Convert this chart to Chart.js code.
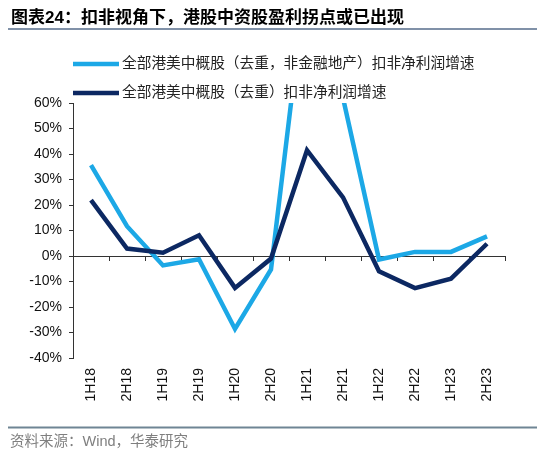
<!DOCTYPE html>
<html>
<head>
<meta charset="utf-8">
<script src="https://cdn.jsdelivr.net/npm/chart.js@4/dist/chart.umd.min.js"></script>
<style>
  html, body { margin: 0; padding: 0; background: #fff; }
</style>
</head>
<body>
<canvas id="chart" width="550" height="454"></canvas>
<script>
// data (percent)
const categories = ['1H18', '2H18', '1H19', '2H19', '1H20', '2H20', '1H21', '2H21', '1H22', '2H22', '1H23', '2H23'];
const nonFinGrowth = [35.6, 11.7, -3.7, -1.3, -28.6, -5.3, 112, 62, -1.4, 1.6, 1.6, 7.7];
const allGrowth = [21.9, 2.9, 1.3, 8.1, -12.5, -1.0, 41.5, 23.0, -6.0, -12.6, -8.9, 4.8];
const yTicks = [-40, -30, -20, -10, 0, 10, 20, 30, 40, 50, 60];

const seriesNames = ['全部港美中概股（去重，非金融地产）扣非净利润增速', '全部港美中概股（去重）扣非净利润增速'];
const titleText = '图表24：扣非视角下，港股中资股盈利拐点或已出现';
const sourceText = '资料来源：Wind，华泰研究';

const cjk = '"Liberation Sans", "Noto Sans CJK SC", sans-serif';

// title, rules, footer and the stacked legend
const decor = {
  id: 'decor',
  afterDraw(chart) {
    const c = chart.ctx;
    c.save();
    c.fillStyle = '#000';
    c.font = 'bold 17px ' + cjk;
    c.textBaseline = 'middle';
    c.fillText(titleText, 11, 18);

    c.strokeStyle = '#8091a8';
    c.lineWidth = 2;
    c.beginPath(); c.moveTo(8, 29); c.lineTo(537, 29); c.stroke();
    c.strokeStyle = '#6f8594';
    c.beginPath(); c.moveTo(8, 427.5); c.lineTo(537, 427.5); c.stroke();

    c.fillStyle = '#7f7f7f';
    c.font = '14.5px ' + cjk;
    c.fillText(sourceText, 10, 442);

    const rows = [64, 93];
    chart.data.datasets.forEach((ds, i) => {
      const y = rows[i];
      c.strokeStyle = ds.borderColor;
      c.lineWidth = 4.5;
      c.beginPath(); c.moveTo(73, y); c.lineTo(119, y); c.stroke();
      c.fillStyle = '#222';
      c.font = '14.7px ' + cjk;
      c.fillText(ds.label, 122, y);
    });
    c.restore();
  }
};

new Chart(document.getElementById('chart'), {
  type: 'line',
  data: {
    labels: categories,
    datasets: [
      {
        label: seriesNames[0],
        data: nonFinGrowth,
        borderColor: '#1ca8e6',
        borderWidth: 4.5,
        pointRadius: 0,
        tension: 0,
        clip: 0,
        order: 1
      },
      {
        label: seriesNames[1],
        data: allGrowth,
        borderColor: '#0c2862',
        borderWidth: 4.5,
        pointRadius: 0,
        tension: 0,
        clip: 0,
        order: 0
      }
    ]
  },
  options: {
    responsive: false,
    animation: false,
    layout: { padding: { left: 10, right: 45, top: 103, bottom: 46 } },
    plugins: {
      legend: { display: false },
      tooltip: { enabled: false }
    },
    scales: {
      x: {
        type: 'category',
        position: { y: 0 },
        offset: true,
        grid: { drawOnChartArea: false, offset: true, tickLength: 4, color: '#333' },
        border: { color: '#333', width: 1 },
        ticks: { display: false }
      },
      x2: {
        type: 'category',
        position: 'bottom',
        offset: true,
        grid: { display: false, drawTicks: false },
        border: { display: false },
        ticks: {
          color: '#111',
          font: { family: 'Liberation Sans', size: 14 },
          minRotation: 90,
          maxRotation: 90,
          padding: 10,
          autoSkip: false
        },
        afterFit(scale) { scale.height = 50; }
      },
      y: {
        min: -40,
        max: 60,
        grid: { drawOnChartArea: false, tickLength: 4, color: '#333' },
        border: { color: '#333', width: 1 },
        afterBuildTicks(scale) { scale.ticks = yTicks.map(v => ({ value: v })); },
        ticks: {
          color: '#111',
          font: { family: 'Liberation Sans', size: 14 },
          padding: 7,
          callback: v => v + '%'
        },
        afterFit(scale) { scale.width = 63; }
      }
    }
  },
  plugins: [decor]
});
</script>
</body>
</html>
